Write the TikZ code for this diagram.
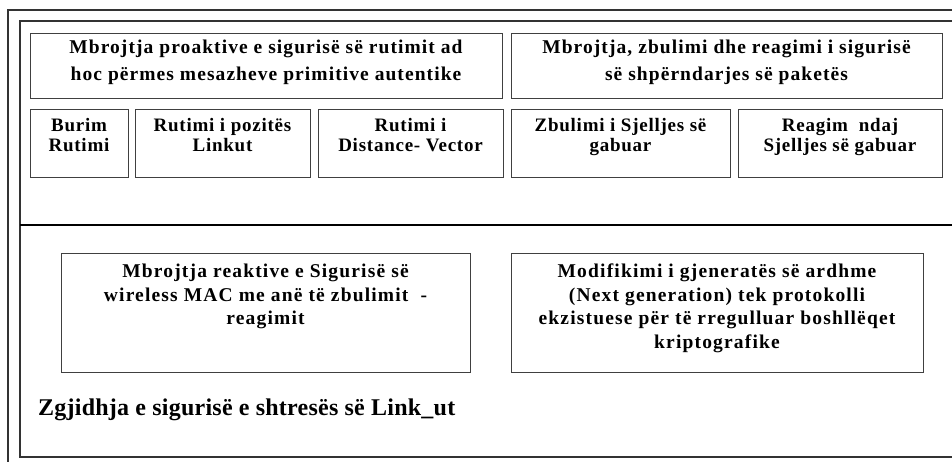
\documentclass[tikz,border=0pt]{standalone}
\usepackage{fontspec}
\setmainfont{Liberation Serif}
\begin{document}
\begin{tikzpicture}[x=1pt,y=-1pt,
  box/.style={draw=black!75, line width=1.3pt, inner sep=0pt, anchor=north west},
  frameline/.style={draw=black!80, line width=1.1pt},
  toptxt/.style={anchor=north, inner sep=0pt, align=center, font=\fontsize{19.5}{26.5}\selectfont\bfseries\addfontfeature{LetterSpace=5.5}},
  smalltxt/.style={anchor=north, inner sep=0pt, align=center, font=\fontsize{19}{20}\selectfont\bfseries\addfontfeature{LetterSpace=4}},
  lowtxt/.style={anchor=north, inner sep=0pt, align=center, font=\fontsize{19.5}{23.5}\selectfont\bfseries\addfontfeature{LetterSpace=6}},
  labtxt/.style={anchor=base west, inner sep=0pt, font=\fontsize{24}{26}\selectfont\bfseries\addfontfeature{LetterSpace=1}}]
\useasboundingbox[fill=white] (0,0) rectangle (952,461);
% frames
\draw[frameline] (8,470) -- (8,10) -- (960,10);
\draw[frameline] (960,21) -- (20,21) -- (20,457) -- (960,457);
\draw[black, line width=2.5pt] (20,225) -- (960,225);
% top big boxes
\node[box, minimum width=472pt, minimum height=65pt] (bA) at (30,33) {};
\node[box, minimum width=431pt, minimum height=65pt] (bB) at (511,33) {};
\node[toptxt] (tA) at (266,40) {Mbrojtja proaktive e sigurisë së rutimit ad\\hoc përmes mesazheve primitive autentike};
\node[toptxt] (tB) at (726.5,40) {Mbrojtja, zbulimi dhe reagimi i sigurisë\\së shpërndarjes së paketës};
% small boxes
\node[box, minimum width=98pt, minimum height=68pt] (s1) at (30,109) {};
\node[box, minimum width=175pt, minimum height=68pt] (s2) at (135,109) {};
\node[box, minimum width=185pt, minimum height=68pt] (s3) at (318,109) {};
\node[box, minimum width=219pt, minimum height=68pt] (s4) at (511,109) {};
\node[box, minimum width=204pt, minimum height=68pt] (s5) at (738,109) {};
\node[smalltxt] (t1) at (79,118.5) {Burim\\Rutimi};
\node[smalltxt] (t2) at (222.5,118.5) {Rutimi i pozitës\\Linkut};
\node[smalltxt] (t3) at (410.5,118.5) {Rutimi i\\Distance- Vector};
\node[smalltxt] (t4) at (620.5,118.5) {Zbulimi i Sjelljes së\\gabuar};
\node[smalltxt] (t5) at (840,118.5) {Reagim\ \ ndaj\\Sjelljes së gabuar};
% lower boxes
\node[box, minimum width=409pt, minimum height=119pt] (bC) at (61,253) {};
\node[box, minimum width=412pt, minimum height=119pt] (bD) at (511,253) {};
\node[lowtxt] (tC) at (265.5,264) {Mbrojtja reaktive e Sigurisë së\\wireless MAC me anë të zbulimit \ -\\reagimit};
\node[lowtxt] (tD) at (717,264) {Modifikimi i gjeneratës së ardhme\\(Next generation) tek protokolli\\ekzistuese për të rregulluar boshllëqet\\kriptografike};
\node[labtxt] (lab) at (38,415) {Zgjidhja e sigurisë e shtresës së Link\_ut};
\end{tikzpicture}
\end{document}
